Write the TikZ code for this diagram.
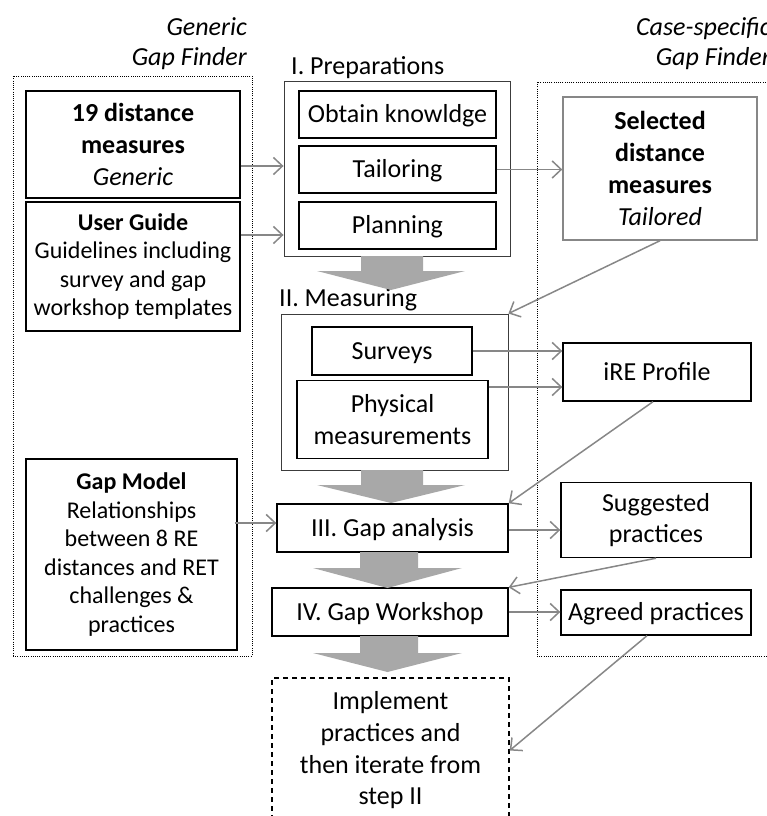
\documentclass[tikz,border=0pt]{standalone}
\usepackage{fontspec}
\setmainfont{Carlito}
\usetikzlibrary{arrows.meta,calc}
\definecolor{conngray}{RGB}{135,135,135}
\definecolor{blockgray}{RGB}{168,168,168}
\definecolor{framegray}{RGB}{60,60,60}
\begin{document}
\begin{tikzpicture}[x=1pt,y=-1pt,
  txt/.style={font=\fontsize{26}{31.7}\selectfont},
  txtsm/.style={font=\fontsize{24}{28.6}\selectfont},
  oneline/.style={text height=16.5pt,text depth=0pt},
  box/.style={draw=black,line width=1.4pt,inner sep=0pt,align=center},
  frame/.style={draw=framegray,line width=0.9pt,inner sep=0pt},
  finder/.style={draw=black,line width=0.9pt,dash pattern=on 1pt off 1.2pt,inner sep=0pt},
  conn/.style={draw=conngray,line width=1.5pt,-{Straight Barb[length=9pt,width=17pt,line width=1.5pt]}},
  block/.style={fill=blockgray,draw=none},
  lbl/.style={font=\fontsize{26}{30}\selectfont\itshape,align=right,inner sep=0pt}
]
\useasboundingbox (0,0) rectangle (766,816);

% group frames
\node[finder,minimum width=239pt,minimum height=580pt] (gen) at (132.5,366) {};
\node[finder,minimum width=263pt,minimum height=574pt] (cs) at (668.5,369) {};
\node[lbl,anchor=south east] (genlbl) at (247,70) {Generic\\Gap Finder};
\node[lbl,anchor=south east] (cslbl) at (771,70) {Case-specific\\Gap Finder};

% generic gap finder contents
\node[box,txt,minimum width=214pt,minimum height=107pt] (dm) at (133,144.5)
  {\textbf{19 distance}\\\textbf{measures}\\\textit{Generic}};
\node[box,txtsm,minimum width=214pt,minimum height=129pt] (ug) at (133,266.5)
  {\textbf{User Guide}\\Guidelines including\\survey and gap\\workshop templates};
\node[box,txtsm,minimum width=211pt,minimum height=191pt] (gm) at (131.5,554.5)
  {\textbf{Gap Model}\\Relationships\\between 8 RE\\distances and RET\\challenges \&\\practices};

% step I
\node[frame,minimum width=226pt,minimum height=175pt] (prep) at (397,168.5) {};
\node[txt,anchor=south west,inner sep=0pt] (preplbl) at (291,79) {I. Preparations};
\node[box,txt,oneline,minimum width=197pt,minimum height=47pt] (obt) at (397.5,114.5) {Obtain knowldge};
\node[box,txt,oneline,minimum width=197pt,minimum height=47pt] (tail) at (397.5,169.5) {Tailoring};
\node[box,txt,oneline,minimum width=197pt,minimum height=47pt] (plan) at (397.5,225.5) {Planning};

% step II
\node[frame,minimum width=227pt,minimum height=156pt] (meas) at (394.5,392) {};
\node[txt,anchor=south west,inner sep=0pt] (measlbl) at (279,311) {II. Measuring};
\node[box,txt,oneline,minimum width=160pt,minimum height=48pt] (surv) at (392,351) {Surveys};
\node[box,txt,minimum width=191pt,minimum height=78pt] (phys) at (392.5,419.5) {Physical\\measurements};

% steps III, IV and follow-up
\node[box,txt,oneline,minimum width=231pt,minimum height=48pt] (ga) at (392.5,528) {III. Gap analysis};
\node[box,txt,oneline,minimum width=236pt,minimum height=48pt] (ws) at (390,612) {IV. Gap Workshop};
\node[box,txt,dashed,dash pattern=on 5pt off 4pt,minimum width=237pt,minimum height=145pt] (impl) at (390.5,750.5)
  {Implement\\practices and\\then iterate from\\step II};

% case-specific gap finder contents
\node[box,draw=conngray,txt,minimum width=194pt,minimum height=143pt] (sel) at (660,168.5)
  {\textbf{Selected}\\\textbf{distance}\\\textbf{measures}\\\textit{Tailored}};
\node[box,txt,oneline,minimum width=188pt,minimum height=58pt] (ire) at (657,372) {iRE Profile};
\node[box,txt,minimum width=190pt,minimum height=75pt] (sugg) at (656,520) {Suggested\\practices};
\node[box,txt,oneline,minimum width=190pt,minimum height=45pt] (agr) at (656,612.5) {Agreed practices};

% block arrows between the steps
\path[block] (361,256) -- (423,256) -- (423,271) -- (465,271) -- (391,290) -- (317,271) -- (361,271) -- cycle;
\path[block] (361,470) -- (423,470) -- (423,485) -- (465,485) -- (391,503) -- (317,485) -- (361,485) -- cycle;
\path[block] (360,552) -- (418,552) -- (418,568) -- (462,568) -- (387.5,588) -- (313,568) -- (360,568) -- cycle;
\path[block] (360,636) -- (418,636) -- (418,653) -- (462,653) -- (387.5,672) -- (313,653) -- (360,653) -- cycle;

% connectors
\draw[conn] (dm.east |- 0,166) -- (prep.west |- 0,166);
\draw[conn] (ug.east |- 0,235) -- (prep.west |- 0,235);
\draw[conn] (tail.east) -- (sel.west |- tail.east);
\draw[conn] (sel.south) -- (meas.north east);
\draw[conn] (surv.east) -- (ire.west |- surv.east);
\draw[conn] (phys.east |- 0,387) -- (ire.west |- 0,387);
\draw[conn] ($(ire.south)+(-4,0)$) -- (ga.north east);
\coordinate (gmout) at ($(gm.east |- 0,523)+(-3,0)$);
\draw[conn] (gmout) -- (ga.west |- gmout);
\draw[conn] (ga.east |- 0,530) -- (sugg.west |- 0,530);
\draw[conn] (sugg.south) -- (ws.north east);
\draw[conn] (ws.east) -- (agr.west |- ws.east);
\draw[conn] ($(agr.south)+(-9,0)$) -- (impl.east);
\end{tikzpicture}
\end{document}
